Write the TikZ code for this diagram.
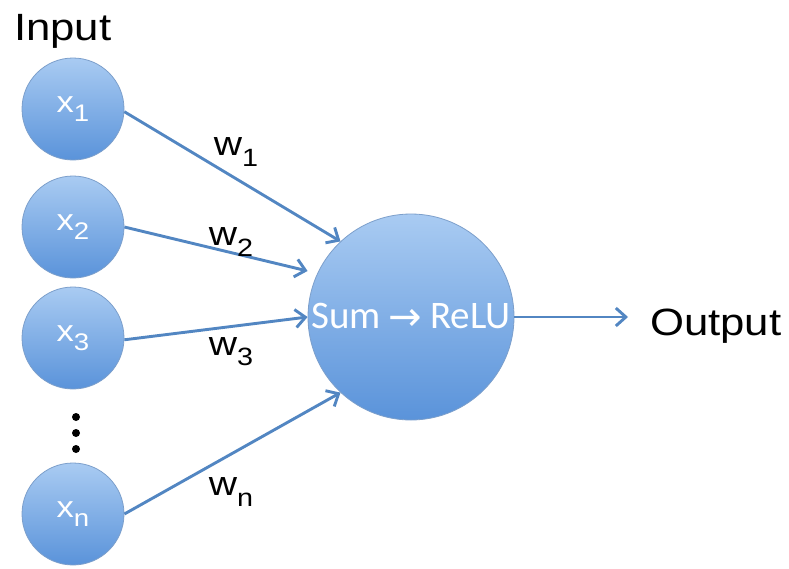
\documentclass[tikz,border=0pt]{standalone}
\usepackage{fontspec}
\setmainfont[FakeStretch=1.15]{Liberation Sans}
\newfontfamily\sumfont{Carlito}
\newfontfamily\arrowfont{DejaVu Sans}
\usetikzlibrary{arrows.meta}

\definecolor{ctop}{HTML}{A9CBF2}
\definecolor{cbot}{HTML}{5A93DA}
\definecolor{nodeedge}{HTML}{7C9FCB}
\definecolor{wirecol}{HTML}{5286C2}

% subscripts for the variable labels
\newcommand\xsub[1]{\raisebox{-0.32em}{\fontsize{24}{24}\selectfont #1}}
\newcommand\wsub[1]{\raisebox{-0.30em}{\fontsize{25}{25}\selectfont #1}}

\begin{document}
\begin{tikzpicture}[x=1pt,y=-1pt,
  neuron/.style={circle, draw=nodeedge, line width=0.8pt,
    top color=ctop, bottom color=cbot, inner sep=0pt, text=white},
  inputc/.style={neuron, minimum size=102pt, font=\fontsize{30}{30}\selectfont},
  wire/.style={draw=wirecol, line width=2.9pt,
    -{Straight Barb[length=10pt,width=18pt,line width=2.9pt]}},
  wlabel/.style={font=\fontsize{34}{34}\selectfont, inner sep=0pt},
  title/.style={font=\fontsize{38}{38}\selectfont, inner sep=0pt},
  dot/.style={circle, fill=black, inner sep=0pt, minimum size=8pt}]
\useasboundingbox (0,0) rectangle (789,568);

% input neurons
\node[inputc] (x1) at (73,109) {x\xsub{1}};
\node[inputc] (x2) at (73,227) {x\xsub{2}};
\node[inputc] (x3) at (73,338) {x\xsub{3}};
\node[inputc] (xn) at (73,514) {x\xsub{n}};

% vertical ellipsis
\node[dot] (d1) at (76,417) {};
\node[dot] (d2) at (76,433) {};
\node[dot] (d3) at (76,449) {};

% summing unit
\node[neuron, minimum size=206pt, font=\sumfont\fontsize{39}{39}\selectfont]
  (sum) at (411,317)
  {Sum\hspace{0.2em}{\arrowfont\fontsize{40}{40}\selectfont\raisebox{-0.05em}{→}}\hspace{0.2em}ReLU};

% weighted inputs
\draw[wire] (x1.-3) -- (sum.133);
\draw[wire, shorten >=10pt] (x2.east) -- (sum.155);
\draw[wire] (x3.-2) -- (sum.west);
\draw[wire] (xn.east) -- (sum.227);

\node[wlabel] (w1) at (236,152) {w\wsub{1}};
\node[wlabel] (w2) at (231,242) {w\wsub{2}};
\node[wlabel] (w3) at (231,352) {w\wsub{3}};
\node[wlabel] (wn) at (231,492) {w\wsub{n}};

% output
\coordinate (outend) at (628,317);
\draw[wire] (sum.east) -- (outend);
\node[title, anchor=base west] (out) at (650,335) {Output};

\node[title, anchor=base west] (in) at (14,40) {Input};
\end{tikzpicture}
\end{document}
